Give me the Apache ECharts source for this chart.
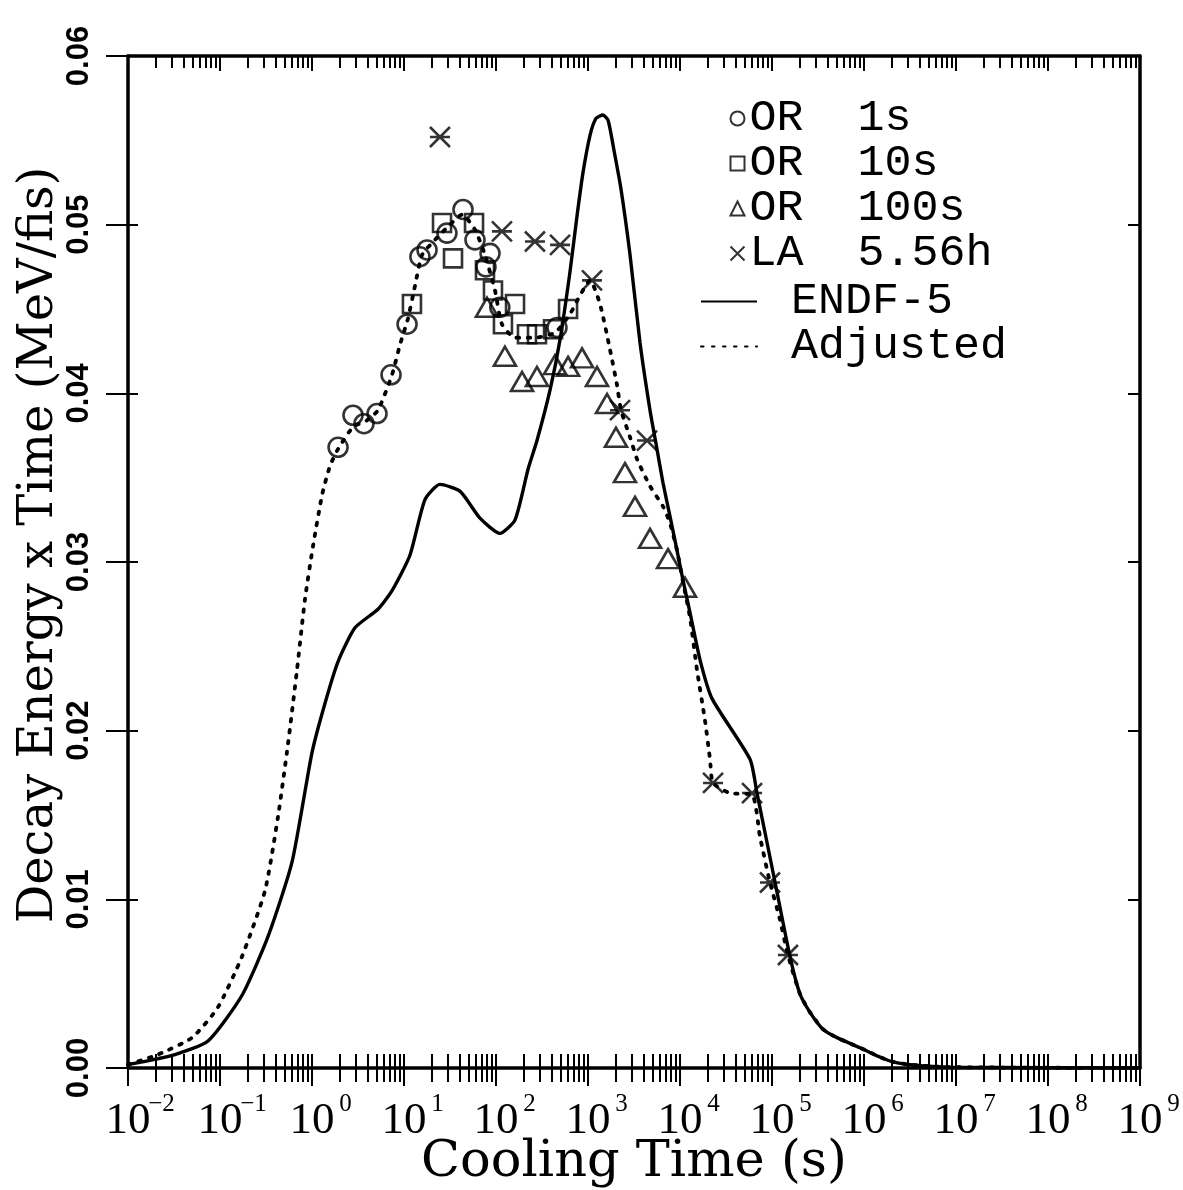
<!DOCTYPE html>
<html><head><meta charset="utf-8">
<script src="https://cdn.jsdelivr.net/npm/echarts@6/dist/echarts.min.js"></script>
<style>html,body{margin:0;padding:0;background:#fff}#c{width:1183px;height:1190px}</style>
</head><body><div id="c"></div><script>
// ---- data (cooling time in s, decay energy x time in MeV/fis) ----
const endfTime = [0.01,0.0324,0.0741,0.173,0.333,0.606,1.0,1.38,1.92,2.93,5.21,7.41,11.6,16.9,24.6,40.6,67.0,110,161,223,279,387,497,637,759,883,1052,1222,1455,1650,1918,2285,2864,3676,4720,5620,6530,7790,9270,10800,12850,16500,22300,57700,68700,108000,157000,201000,259000,358000,509000,906000,1.49e6,2.07e6,3.41e6,8.6e6,1e9];
const endfValue = [0.0002,0.0008,0.0016,0.0043,0.0078,0.0122,0.0187,0.0216,0.0241,0.0261,0.0272,0.0283,0.0304,0.0337,0.0346,0.0342,0.0326,0.0317,0.0325,0.0355,0.0372,0.0402,0.0432,0.0472,0.0505,0.0531,0.0553,0.0563,0.0565,0.0562,0.0544,0.0521,0.0482,0.0430,0.0390,0.0367,0.0347,0.0327,0.0307,0.0289,0.0270,0.0242,0.0219,0.0183,0.0163,0.0110,0.0066,0.0044,0.0033,0.0023,0.0018,0.0012,0.00065,0.00036,0.00018,0.00005,0.0];
const adjTime = [0.01,0.0212,0.0497,0.095,0.173,0.308,0.427,0.548,0.687,0.839,1.03,1.29,1.57,1.92,2.79,3.96,5.21,7.41,9.06,11.0,13.2,15.7,21.7,31.6,42.7,59.1,75.9,97.5,116,161,265,438,637,818,1052,1349,1733,2066,2285,2864,3412,4720,6530,7790,9270,10800,12850,15300,18700,21200,22860,34900,60700,74100,95100,122000,149000,201000,259000,358000,509000,906000,1.49e6,2.07e6,3.41e6,8.6e6,1e9];
const adjValue = [0.0002,0.0008,0.0018,0.0036,0.0066,0.0105,0.0149,0.0192,0.0236,0.0278,0.0310,0.0340,0.0357,0.0367,0.0380,0.0384,0.0390,0.0411,0.0429,0.0444,0.0464,0.0482,0.0491,0.0500,0.0506,0.0497,0.0482,0.0461,0.0441,0.0433,0.0433,0.0436,0.0447,0.0458,0.0467,0.0453,0.0426,0.0405,0.0390,0.0374,0.0361,0.0345,0.0333,0.0323,0.0307,0.0288,0.0267,0.0236,0.0206,0.0183,0.0169,0.0163,0.0162,0.0137,0.0110,0.0088,0.0067,0.0044,0.0033,0.0023,0.0018,0.0012,0.00065,0.00036,0.00018,0.00005,0.0];
const or1Time = [1.92,2.79,3.67,5.09,7.23,10.8,14.9,17.8,29.3,43.8,59.1,86.1,77.8,110,460];
const or1Value = [0.0368,0.0387,0.0382,0.0388,0.0411,0.0441,0.0481,0.0485,0.0495,0.0509,0.0491,0.0483,0.0475,0.0451,0.0439];
const or10Time = [12.2,25.9,34.1,57.7,75.9,92.7,119,161,217,279,417,607];
const or10Value = [0.0453,0.0501,0.0480,0.0501,0.0473,0.0461,0.0441,0.0453,0.0435,0.0435,0.0438,0.0450];
const or100Time = [79.8,125,192,279,438,607,861,1253,1611,2015,2523,3243,4722,7413,11330];
const or100Value = [0.0451,0.0422,0.0407,0.0410,0.0417,0.0416,0.0421,0.0410,0.0394,0.0374,0.0353,0.0333,0.0314,0.0302,0.0285];
const laTime = [24.6,116,265,497,1105,2228,4380,22860,60700,95100,149000];
const laValue = [0.0552,0.0496,0.0490,0.0488,0.0467,0.0390,0.0372,0.0169,0.0163,0.0110,0.0067];
const seriesNames = ['OR 1s','OR 10s','OR 100s','LA 5.56h','ENDF-5','Adjusted'];
const xMin = 0.01, xMax = 1e9, yMin = 0, yMax = 0.06, yStep = 0.01;
const xTitle = 'Cooling Time (s)';
const yTitle = 'Decay Energy x Time (MeV/fis)';

const zip = (a, b) => a.map((t, i) => [t, b[i]]);
const BLACK = '#000';
const hollow = {color: 'rgba(0,0,0,0)', borderColor: BLACK, borderWidth: 2.6};
const star = 'path://M0,0L10,10M10,0L0,10M0,5L10,5';
const cross = 'path://M0,0L10,10M10,0L0,10';

function expLabel(v) {
  const e = Math.round(Math.log10(v));
  return '{p|}{b|10}{s|' + (e < 0 ? '\u2212' + (-e) : e) + '}';
}
// legend label: wider gap between the two words, like the reference
const legendLabel = n => n.replace(' ', '  ');
const tickLine = {color: BLACK, width: 2};
function xAxisBase(extra) {
  return Object.assign({
    type: 'log', logBase: 10, min: xMin, max: xMax, interval: 1,
    splitLine: {show: false}, minorSplitLine: {show: false},
    axisLine: {show: true, onZero: false, lineStyle: {color: BLACK, width: 3.5}},
  }, extra);
}
function yAxisBase(extra) {
  return Object.assign({
    type: 'value', min: yMin, max: yMax, interval: yStep,
    splitLine: {show: false},
    axisLine: {show: true, onZero: false, lineStyle: {color: BLACK, width: 3.5}},
  }, extra);
}

const option = {
  animation: false,
  backgroundColor: '#fff',
  grid: {left: 128, right: 43, top: 56, bottom: 122, containLabel: false, outerBoundsMode: 'none'},
  xAxis: [
    xAxisBase({
      position: 'bottom',
      axisTick: {show: true, inside: false, length: 18, lineStyle: tickLine},
      minorTick: {show: true, splitNumber: 9, length: 14, lineStyle: tickLine},
      axisLabel: {
        show: true, margin: 24, formatter: expLabel, showMinLabel: true, showMaxLabel: true,
        rich: {
          p: {width: 22},
          b: {fontFamily: 'Liberation Serif', fontSize: 45, color: BLACK, lineHeight: 58},
          s: {fontFamily: 'Liberation Serif', fontSize: 25, color: BLACK, width: 22, align: 'left', lineHeight: 26, verticalAlign: 'top'}
        }
      },
      name: xTitle, nameLocation: 'middle', nameGap: 69, nameMoveOverlap: false,
      nameTextStyle: {fontFamily: 'DejaVu Serif', fontSize: 51, color: BLACK}
    }),
    xAxisBase({
      position: 'bottom', axisLine: {show: false},
      axisTick: {show: true, inside: true, length: 14, lineStyle: tickLine},
      minorTick: {show: true, splitNumber: 9, length: 14, lineStyle: tickLine},
      axisLabel: {show: false}
    }),
    xAxisBase({
      position: 'top',
      axisTick: {show: true, inside: true, length: 15, lineStyle: tickLine},
      minorTick: {show: true, splitNumber: 9, length: 12, lineStyle: tickLine},
      axisLabel: {show: false}
    })
  ],
  yAxis: [
    yAxisBase({
      position: 'left',
      axisTick: {show: true, inside: false, length: 22, lineStyle: tickLine},
      axisLabel: {
        rotate: 90, margin: 33, formatter: v => v.toFixed(2),
        fontFamily: 'Liberation Sans', fontWeight: 'bold', fontSize: 31, color: BLACK
      },
      name: yTitle, nameLocation: 'middle', nameGap: 64, nameMoveOverlap: false,
      nameTextStyle: {fontFamily: 'DejaVu Serif', fontSize: 48, color: BLACK, padding: [0, 0, 0, 34]}
    }),
    yAxisBase({
      position: 'left', axisLine: {show: false},
      axisTick: {show: true, inside: true, length: 10, lineStyle: tickLine},
      axisLabel: {show: false}
    }),
    yAxisBase({
      position: 'right',
      axisTick: {show: true, inside: true, length: 12, lineStyle: tickLine},
      axisLabel: {show: false}
    })
  ],
  legend: [
    {
      orient: 'vertical', left: 723, top: 91, itemWidth: 14, itemHeight: 14, itemGap: 0,
      selectedMode: false,
      data: [{name: seriesNames[0]}, {name: seriesNames[1]}, {name: seriesNames[2]}, {name: seriesNames[3], icon: cross}],
      formatter: legendLabel,
      textStyle: {fontFamily: 'Liberation Mono', fontSize: 45, lineHeight: 45, color: BLACK}
    },
    {
      orient: 'vertical', left: 695, top: 274, itemWidth: 56, itemHeight: 14, itemGap: 0,
      selectedMode: false,
      itemStyle: {color: 'rgba(0,0,0,0)', borderWidth: 0, opacity: 0},
      data: [seriesNames[4], seriesNames[5]],
      formatter: n => '{g|}{t|' + n + '}',
      textStyle: {
        color: BLACK, lineHeight: 45,
        rich: {g: {width: 29}, t: {fontFamily: 'Liberation Mono', fontSize: 45, lineHeight: 45, color: BLACK}}
      }
    }
  ],
  series: [
    {name: seriesNames[4], type: 'line', data: zip(endfTime, endfValue), symbol: 'none', z: 2, smooth: 0.2,
     lineStyle: {color: BLACK, width: 3.4}, itemStyle: {color: BLACK}},
    {name: seriesNames[5], type: 'line', data: zip(adjTime, adjValue), symbol: 'none', z: 2, smooth: 0.2,
     lineStyle: {color: BLACK, width: 3.8, type: [2.5, 8.5], cap: 'round'}, itemStyle: {color: BLACK}},
    {name: seriesNames[0], type: 'scatter', data: zip(or1Time, or1Value), symbol: 'circle', symbolSize: 19, z: 3, itemStyle: hollow},
    {name: seriesNames[1], type: 'scatter', data: zip(or10Time, or10Value), symbol: 'rect', symbolSize: 18, z: 3, itemStyle: hollow},
    {name: seriesNames[2], type: 'scatter', data: zip(or100Time, or100Value), symbol: 'triangle', symbolSize: [22, 19], z: 3, itemStyle: hollow},
    {name: seriesNames[3], type: 'scatter', data: zip(laTime, laValue), symbol: star, symbolSize: 20, z: 3,
     itemStyle: {color: 'none', borderColor: BLACK, borderWidth: 2.6}}
  ]
};
const chart = echarts.init(document.getElementById('c'), null, {renderer: 'canvas'});
chart.setOption(option);
</script></body></html>
